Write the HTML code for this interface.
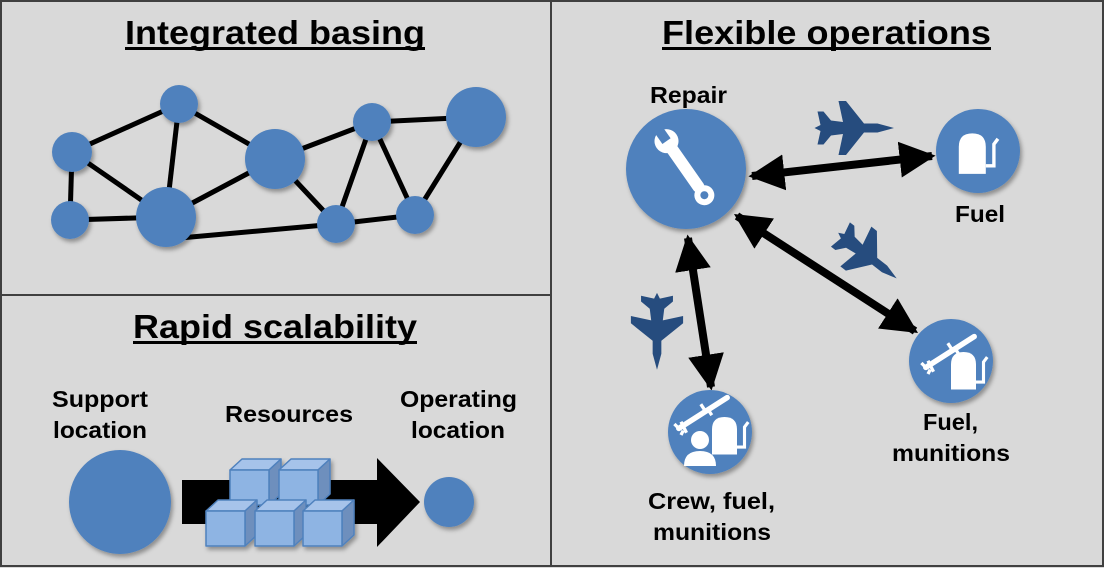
<!DOCTYPE html>
<html><head><meta charset="utf-8"><style>
html,body{margin:0;padding:0;background:#d9d9d9;}
svg{display:block;}
text{font-family:"Liberation Sans",Arial,sans-serif;font-weight:bold;fill:#000;}
</style></head><body>
<svg width="1104" height="568" viewBox="0 0 1104 568" xmlns="http://www.w3.org/2000/svg">
<defs>
<filter id="sh" x="-30%" y="-30%" width="160%" height="160%"><feDropShadow dx="2" dy="3" stdDeviation="2" flood-color="#000" flood-opacity="0.35"/></filter>
<marker id="ah" viewBox="0 0 10 10" refX="9" refY="5" markerWidth="4.5" markerHeight="5" orient="auto-start-reverse" markerUnits="strokeWidth"><path d="M0,0 L10,5 L0,10 Z" fill="#000"/></marker>
<path id="jet" d="M0,-26 L3,-15 L3,-6 L18,6 L18,11 L4,8 L5,16 L11,21 L11,25 L2,23 L0,27 L-2,23 L-11,25 L-11,21 L-5,16 L-4,8 L-18,11 L-18,6 L-3,-6 L-3,-15 Z" fill="#264c7e"/>
<g id="pump"><path d="M-12,14 L-12,-6 Q-12,-16 -2,-16 Q8,-16 8,-6 L8,14 Z" fill="#fff"/><path d="M8,8 L14,8 L14,-8 L17,-12" stroke="#fff" stroke-width="2.5" fill="none"/></g>
<g id="missile"><line x1="-22" y1="14" x2="22" y2="-14" stroke="#fff" stroke-width="5" stroke-linecap="round"/><path d="M-20,8 L-15,18 M-22,14 L-26,10 M-18,16 L-20,20 M4,-4 L8,2 M2,-2 L-2,-8" stroke="#fff" stroke-width="3"/></g>
<g id="cube" stroke="#4f81bd" stroke-width="1.5" stroke-linejoin="round"><path d="M0,0 L12,-11 L51,-11 L39,0 Z" fill="#a6c3ea"/><path d="M39,0 L51,-11 L51,24 L39,35 Z" fill="#6e8fbd"/><rect x="0" y="0" width="39" height="35" fill="#8eb4e3"/></g>
</defs>
<rect x="0" y="0" width="1104" height="568" fill="#d9d9d9"/>
<rect x="1" y="1" width="550" height="294" fill="none" stroke="#404040" stroke-width="2"/>
<rect x="1" y="295" width="550" height="271" fill="none" stroke="#404040" stroke-width="2"/>
<rect x="551" y="1" width="552" height="565" fill="none" stroke="#404040" stroke-width="2"/>

<text x="125" y="44" font-size="33" textLength="300" lengthAdjust="spacingAndGlyphs">Integrated basing</text>
<rect x="125" y="47" width="300" height="3" fill="#000"/>
<text x="133" y="338" font-size="33" textLength="284" lengthAdjust="spacingAndGlyphs">Rapid scalability</text>
<rect x="133" y="341" width="284" height="3" fill="#000"/>
<text x="662" y="44" font-size="33" textLength="329" lengthAdjust="spacingAndGlyphs">Flexible operations</text>
<rect x="662" y="47" width="329" height="3" fill="#000"/>

<g stroke="#000" stroke-width="5">
<line x1="72" y1="152" x2="179" y2="104"/><line x1="72" y1="152" x2="70" y2="220"/>
<line x1="72" y1="152" x2="166" y2="217"/><line x1="179" y1="104" x2="166" y2="217"/>
<line x1="179" y1="104" x2="275" y2="159"/><line x1="70" y1="220" x2="166" y2="217"/>
<line x1="166" y1="217" x2="275" y2="159"/><line x1="180" y1="238" x2="336" y2="224"/>
<line x1="275" y1="159" x2="372" y2="122"/><line x1="275" y1="159" x2="336" y2="224"/>
<line x1="372" y1="122" x2="476" y2="117"/><line x1="372" y1="122" x2="336" y2="224"/>
<line x1="372" y1="122" x2="415" y2="215"/><line x1="336" y1="224" x2="415" y2="215"/>
<line x1="476" y1="117" x2="415" y2="215"/>
</g>
<g fill="#4f81bd" filter="url(#sh)">
<circle cx="72" cy="152" r="20"/><circle cx="179" cy="104" r="19"/><circle cx="70" cy="220" r="19"/>
<circle cx="166" cy="217" r="30"/><circle cx="275" cy="159" r="30"/><circle cx="372" cy="122" r="19"/>
<circle cx="476" cy="117" r="30"/><circle cx="336" cy="224" r="19"/><circle cx="415" cy="215" r="19"/>
</g>

<g font-size="23">
<text x="52" y="407" textLength="96" lengthAdjust="spacingAndGlyphs">Support</text>
<text x="53" y="438" textLength="94" lengthAdjust="spacingAndGlyphs">location</text>
<text x="225" y="422" textLength="128" lengthAdjust="spacingAndGlyphs">Resources</text>
<text x="400" y="407" textLength="117" lengthAdjust="spacingAndGlyphs">Operating</text>
<text x="411" y="438" textLength="94" lengthAdjust="spacingAndGlyphs">location</text>
</g>
<ellipse cx="120" cy="502" rx="51" ry="52" fill="#4f81bd" filter="url(#sh)"/>
<circle cx="449" cy="502" r="25" fill="#4f81bd" filter="url(#sh)"/>
<path d="M182,480 L377,480 L377,458 L420,502 L377,547 L377,524 L182,524 Z" fill="#000"/>
<g filter="url(#sh)">
<use href="#cube" x="230" y="470"/><use href="#cube" x="279" y="470"/>
<use href="#cube" x="206" y="511"/><use href="#cube" x="255" y="511"/><use href="#cube" x="303" y="511"/>
</g>

<g stroke="#000" stroke-width="8" marker-start="url(#ah)" marker-end="url(#ah)">
<line x1="752" y1="176" x2="932" y2="156"/>
<line x1="737" y1="216" x2="915" y2="331"/>
<line x1="688" y1="238" x2="711" y2="387"/>
</g>
<g fill="#4f81bd" filter="url(#sh)">
<circle cx="686" cy="169" r="60"/><circle cx="978" cy="151" r="42"/>
<circle cx="951" cy="361" r="42"/><circle cx="710" cy="432" r="42"/>
</g>
<g transform="translate(686,169) rotate(-35)"><rect x="-6" y="-30" width="12" height="56" rx="4" fill="#fff"/><circle cx="0" cy="-34" r="12" fill="#fff"/><rect x="-5" y="-50" width="10" height="16" fill="#4f81bd"/><circle cx="0" cy="32" r="10" fill="#fff"/><circle cx="0" cy="32" r="4" fill="#4f81bd"/></g>
<use href="#pump" transform="translate(975,155) scale(1.35)"/>
<use href="#missile" transform="translate(950,352) scale(1.1)"/><use href="#pump" transform="translate(966,372) scale(1.25)"/>
<use href="#missile" transform="translate(703,413) scale(1.1)"/><use href="#pump" transform="translate(727,437) scale(1.25)"/>
<circle cx="700" cy="440" r="9" fill="#fff"/><path d="M684,466 Q684,451 700,451 Q716,451 716,466 Z" fill="#fff"/>

<use href="#jet" transform="translate(855,128) rotate(90) scale(1.5)"/>
<use href="#jet" transform="translate(868,256) rotate(128) scale(1.4)"/>
<use href="#jet" transform="translate(657,332) rotate(180) scale(1.45)"/>

<g font-size="23">
<text x="650" y="103" textLength="77" lengthAdjust="spacingAndGlyphs">Repair</text>
<text x="955" y="222" textLength="50" lengthAdjust="spacingAndGlyphs">Fuel</text>
<text x="923" y="430" textLength="55" lengthAdjust="spacingAndGlyphs">Fuel,</text>
<text x="892" y="461" textLength="118" lengthAdjust="spacingAndGlyphs">munitions</text>
<text x="648" y="509" textLength="127" lengthAdjust="spacingAndGlyphs">Crew, fuel,</text>
<text x="653" y="540" textLength="118" lengthAdjust="spacingAndGlyphs">munitions</text>
</g>
</svg>
</body></html>
